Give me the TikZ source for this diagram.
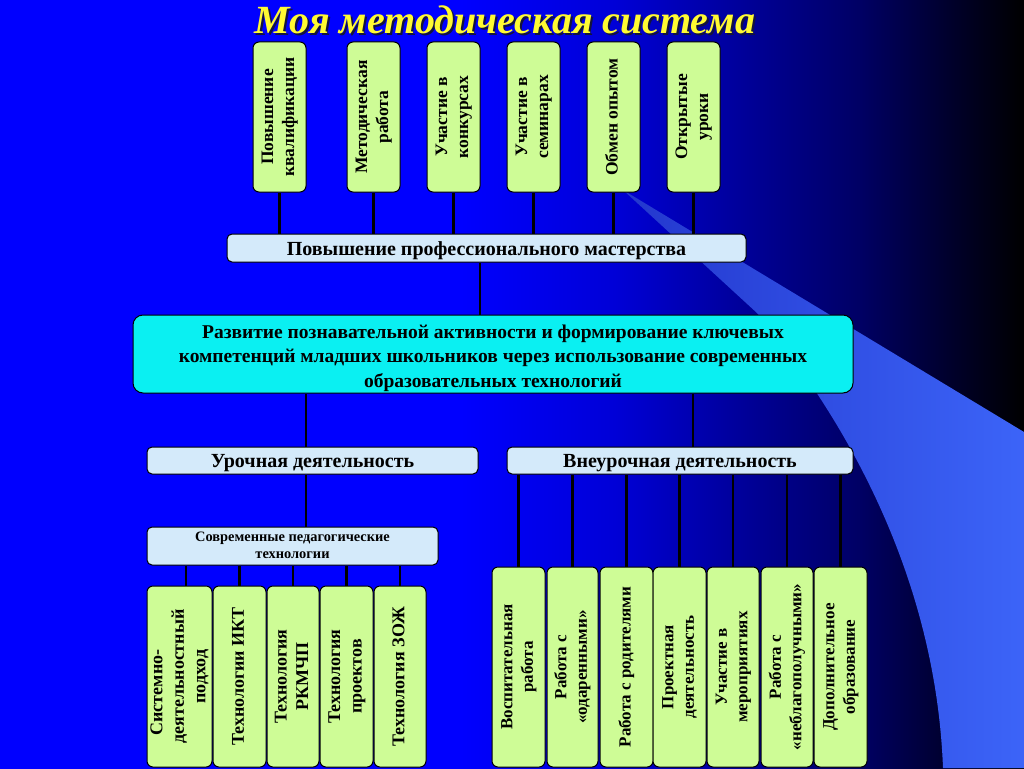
\documentclass[tikz,border=0pt]{standalone}
\usepackage{fontspec}
\setmainfont{Liberation Serif}
\usepackage{graphicx}
\definecolor{bgA}{RGB}{0,0,255}
\definecolor{bgB}{RGB}{0,0,215}
\definecolor{bgC}{RGB}{0,0,165}
\definecolor{bgD}{RGB}{0,0,100}
\definecolor{bgE}{RGB}{0,0,42}
\definecolor{beamA}{RGB}{35,55,205}
\definecolor{beamB}{RGB}{60,100,248}
\definecolor{boxgreen}{RGB}{206,252,150}
\definecolor{barblue}{RGB}{212,234,250}
\definecolor{maincyan}{RGB}{10,240,242}
\definecolor{titleyellow}{RGB}{255,250,50}
\definecolor{titleshadow}{RGB}{20,20,60}
\pgfdeclarehorizontalshading{bgshade}{100bp}{color(0bp)=(bgA); color(25bp)=(bgA); color(47.5bp)=(bgA); color(55bp)=(bgB); color(60bp)=(bgC); color(67bp)=(bgD); color(71.5bp)=(bgE); color(75bp)=(black); color(100bp)=(black)}
\newcommand\vtext[1]{\rotatebox{90}{\begin{tabular}{@{}c@{}}#1\end{tabular}}}
\newcommand\lowtext[2]{\raisebox{-#1}[\height][\depth]{\begin{tabular}{@{}c@{}}#2\end{tabular}}}
\tikzset{
  gbox/.style={draw=black, line width=1pt, fill=boxgreen, rounded corners=6pt, inner sep=0pt, align=center, font=\bfseries\fontsize{17.5}{21}\selectfont},
  bbox/.style={draw=black, line width=1pt, fill=barblue, rounded corners=5pt, inner sep=0pt, align=center, font=\bfseries\fontsize{20}{22}\selectfont},
  conn/.style={draw=black, line width=2.5pt},
  titlefont/.style={font=\bfseries\itshape\fontsize{40}{44}\selectfont},
}
\begin{document}
\begin{tikzpicture}[x=1pt,y=-1pt]
\useasboundingbox (0,0) rectangle (1024,768);
\shade[shading=bgshade] (0,0) rectangle (1024,768);
\shade[left color=beamA, right color=beamB] (623,190) -- (1024,432) -- (1024,768) -- (943,768) .. controls (935,560) and (830,400) .. (757,313) -- cycle;

\node[titlefont, text=titleshadow] (titlesh) at (507,22) {Моя методическая система};
\node[titlefont, text=titleyellow] (title) at (505,20) {Моя методическая система};

% top boxes
\foreach \n/\x/\t in {t1/279.5/{Повышение\\квалификации}, t2/373.5/{Методическая\\работа}, t3/453.5/{Участие в\\конкурсах}, t4/533.5/{Участие в\\семинарах}, t5/613.5/{Обмен опытом}, t6/693.5/{Открытые\\уроки}}
  \node[gbox, minimum width=53pt, minimum height=150pt] (\n) at (\x,117) {\vtext{\t}};

\node[bbox, minimum width=519pt, minimum height=28pt] (b1) at (486.5,248) {\lowtext{3pt}{Повышение профессионального мастерства}};
\foreach \n in {t1,t2,t3,t4,t5,t6}
  \draw[conn] (\n.south) -- (\n.south |- b1.north);

\node[draw=black, line width=1pt, fill=maincyan, rounded corners=10pt, inner sep=0pt, align=center,
      font=\bfseries\fontsize{19.5}{24.5}\selectfont, minimum width=720pt, minimum height=78pt] (m) at (493,354)
  {\lowtext{4pt}{Развитие познавательной активности и формирование ключевых\\компетенций младших школьников через использование современных\\образовательных технологий}};
\draw[conn] (480,0 |- b1.south) -- (480,0 |- m.north);

\node[bbox, minimum width=331pt, minimum height=27pt] (ub) at (312.5,460.5) {\lowtext{3pt}{Урочная деятельность}};
\node[bbox, minimum width=346pt, minimum height=27pt] (vb) at (680,460.5) {\lowtext{3pt}{Внеурочная деятельность}};
\draw[conn] (306,0 |- m.south) -- (306,0 |- ub.north);
\draw[conn] (693,0 |- m.south) -- (693,0 |- vb.north);

\node[bbox, minimum width=291pt, minimum height=38pt, font=\bfseries\fontsize{14.4}{17}\selectfont] (st) at (292.5,546) {\lowtext{1pt}{Современные педагогические\\технологии}};
\draw[conn] (306,0 |- ub.south) -- (306,0 |- st.north);

% bottom left
\node[gbox, font=\bfseries\fontsize{18}{21.5}\selectfont, minimum width=65pt, minimum height=181pt] (l1) at (179.5,676.5) {\vtext{Системно-\hspace*{32pt}\\деятельностный\\подход}};
\node[gbox, font=\bfseries\fontsize{18}{21.5}\selectfont, minimum width=53pt, minimum height=181pt] (l2) at (239.5,676.5) {\vtext{Технологии ИКТ}};
\node[gbox, font=\bfseries\fontsize{18}{21.5}\selectfont, minimum width=52pt, minimum height=181pt] (l3) at (293,676.5) {\vtext{Технология\\РКМЧП}};
\node[gbox, font=\bfseries\fontsize{18}{21.5}\selectfont, minimum width=53pt, minimum height=181pt] (l4) at (346.5,676.5) {\vtext{Технология\\проектов}};
\node[gbox, font=\bfseries\fontsize{18}{21.5}\selectfont, minimum width=52pt, minimum height=181pt] (l5) at (400,676.5) {\vtext{Технология ЗОЖ}};
\draw[conn] (186,0 |- st.south) -- (186,0 |- l1.north);
\foreach \n in {l2,l3,l4,l5}
  \draw[conn] (\n.north |- st.south) -- (\n.north);

% bottom right
\foreach \n/\x/\w/\t in {r1/518.5/53/{Воспитательная\\работа}, r2/572.5/51/{Работа с\\«одаренными»}, r3/626.5/53/{Работа с родителями}, r4/679.5/53/{Проектная\\деятельность}, r5/733/52/{Участие в\\мероприятиях}, r6/787/52/{Работа с\\«неблагополучными»}, r7/840.5/53/{Дополнительное\\образование}}
  \node[gbox, font=\bfseries\fontsize{17}{20.5}\selectfont, minimum width=\w pt, minimum height=200pt] (\n) at (\x,667) {\vtext{\t}};
\foreach \n in {r1,r2,r3,r4,r5,r6,r7}
  \draw[conn] (\n.north |- vb.south) -- (\n.north);
\end{tikzpicture}
\end{document}
